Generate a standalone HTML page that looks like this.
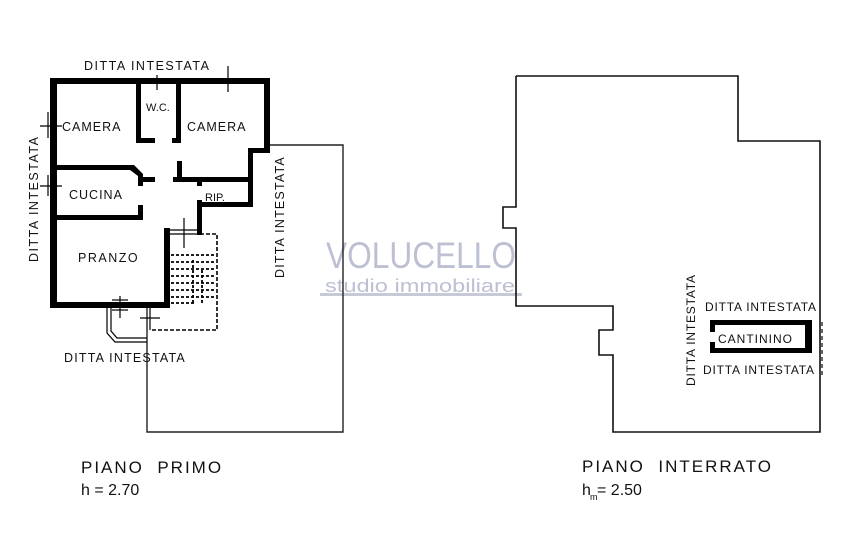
<!DOCTYPE html>
<html><head><meta charset="utf-8"><style>
html,body{margin:0;padding:0;background:#fff;}
svg{display:block;}
text{font-family:"Liberation Sans",sans-serif;fill:#111;}
</style></head><body>
<svg width="852" height="545" viewBox="0 0 852 545" xmlns="http://www.w3.org/2000/svg">
<rect width="852" height="545" fill="#fff"/>
<!-- watermark -->
<text x="326" y="268" font-size="37" style="fill:#bcc0d2;font-weight:normal" textLength="190" lengthAdjust="spacingAndGlyphs">VOLUCELLO</text>
<text x="325" y="292" font-size="18" style="fill:#bcc0d2" textLength="190" lengthAdjust="spacingAndGlyphs">studio immobiliare</text>
<rect x="320" y="293" width="202" height="3" fill="#c6c9d6"/>

<!-- left plan: thin outline -->
<g stroke="#222" stroke-width="1.4" fill="none">
<polyline points="270,145 343,145 343,432 147,432 147,308"/>
</g>
<!-- thick walls -->
<g fill="#000">
<rect x="50" y="78" width="220" height="6"/>
<rect x="50" y="78" width="7" height="230"/>
<rect x="264" y="78" width="6" height="74"/>
<rect x="248" y="148" width="22" height="5"/>
<rect x="248" y="148" width="5" height="59"/>
<rect x="197" y="202" width="56" height="5"/>
<rect x="197" y="200" width="5" height="35"/>
<rect x="164" y="228" width="6" height="80"/>
<rect x="50" y="302" width="120" height="6"/>
<rect x="136" y="80" width="5" height="63"/>
<rect x="136" y="138" width="19" height="5"/>
<rect x="176" y="80" width="5" height="63"/>
<rect x="172" y="138" width="9" height="5"/>
<rect x="54" y="165" width="78" height="5"/>
<polygon points="130,165 134,165 143,174 143,186 138,186 138,176 130,170"/>
<rect x="138" y="177" width="17" height="5"/>
<rect x="138" y="205" width="5" height="15"/>
<rect x="54" y="215" width="89" height="5"/>
<rect x="177" y="161" width="5" height="21"/>
<rect x="173" y="177" width="80" height="5"/>
<rect x="197" y="180" width="5" height="6"/>
</g>
<!-- window marks -->
<g stroke="#000" stroke-width="1.2" fill="none">
<line x1="112" y1="300" x2="128" y2="300"/><line x1="112" y1="310" x2="128" y2="310"/>
<line x1="120" y1="296" x2="120" y2="318"/>
<line x1="170" y1="230" x2="197" y2="230"/><line x1="170" y1="234" x2="197" y2="234"/>
<line x1="184" y1="218" x2="184" y2="248"/>
<line x1="40" y1="126" x2="62" y2="126"/><line x1="48" y1="112" x2="48" y2="138"/>
<line x1="40" y1="186" x2="62" y2="186"/><line x1="48" y1="175" x2="48" y2="196"/>
<line x1="157" y1="75" x2="157" y2="90"/><line x1="228" y1="66" x2="228" y2="92"/>
<line x1="218" y1="80" x2="240" y2="80"/>
<polyline points="107,308 107,333 115,342 147,342"/>
<polyline points="111,308 111,331 117,338 147,338"/>
<line x1="140" y1="318" x2="160" y2="318"/><line x1="150" y1="308" x2="150" y2="330"/>
</g>
<!-- stairs dashed -->
<g stroke="#000" stroke-width="1.6" fill="none" stroke-dasharray="4,2">
<polyline points="200,234 217,234 217,330 150,330"/>
</g>
<g stroke="#000" stroke-width="1.8" fill="none" stroke-dasharray="3,2">
<line x1="171" y1="255" x2="215" y2="255"/>
<line x1="171" y1="262" x2="215" y2="262"/>
<line x1="171" y1="269" x2="215" y2="269"/>
<line x1="171" y1="276" x2="215" y2="276"/>
<line x1="171" y1="283" x2="215" y2="283"/>
<line x1="171" y1="290" x2="215" y2="290"/>
<line x1="171" y1="297" x2="215" y2="297"/>
<line x1="171" y1="303" x2="195" y2="303"/>
<line x1="193" y1="260" x2="193" y2="305"/>
<line x1="202" y1="270" x2="202" y2="305"/>
</g>
<!-- labels left -->
<g font-size="12.5">
<text x="84" y="70" letter-spacing="1.5">DITTA INTESTATA</text>
<text x="62" y="131" letter-spacing="1">CAMERA</text>
<text x="146" y="111" font-size="11">W.C.</text>
<text x="187" y="131" letter-spacing="1">CAMERA</text>
<text x="69" y="199" letter-spacing="1">CUCINA</text>
<text x="205" y="201" font-size="11">RIP.</text>
<text x="78" y="262" letter-spacing="1.5">PRANZO</text>
<text x="64" y="362" letter-spacing="1.2">DITTA INTESTATA</text>
<text transform="translate(38,262) rotate(-90)" letter-spacing="1.5">DITTA INTESTATA</text>
<text transform="translate(284,278) rotate(-90)" letter-spacing="1.2">DITTA INTESTATA</text>
</g>

<!-- right plan -->
<polyline fill="none" stroke="#111" stroke-width="1.6" points="516,76 738,76 738,141 820,141 820,432 613,432 613,355 599,355 599,330 613,330 613,306 516,306 516,228 503,228 503,207 516,207 516,76"/>
<g fill="#000">
<rect x="710" y="320" width="102" height="5"/>
<rect x="710" y="348" width="102" height="5"/>
<rect x="805" y="320" width="7" height="33"/>
<rect x="710" y="320" width="5" height="12"/>
<rect x="710" y="342" width="5" height="11"/>
</g>
<line x1="822" y1="322" x2="822" y2="378" stroke="#000" stroke-width="1.2" stroke-dasharray="4,3"/>
<g font-size="12">
<text x="705" y="311" letter-spacing="0.8">DITTA INTESTATA</text>
<text x="718" y="343" letter-spacing="1">CANTININO</text>
<text x="703" y="374" letter-spacing="0.8">DITTA INTESTATA</text>
<text transform="translate(695,386) rotate(-90)" letter-spacing="0.8">DITTA INTESTATA</text>
</g>

<!-- titles -->
<g font-size="17">
<text x="81" y="473" letter-spacing="2" xml:space="preserve">PIANO  PRIMO</text>
<text x="81" y="495" font-size="16">h = 2.70</text>
<text x="582" y="472" letter-spacing="2" xml:space="preserve">PIANO  INTERRATO</text>
<text x="582" y="495" font-size="16">h</text>
<text x="590" y="500" font-size="9">m</text>
<text x="597" y="495" font-size="16">= 2.50</text>
</g>
</svg>
</body></html>
